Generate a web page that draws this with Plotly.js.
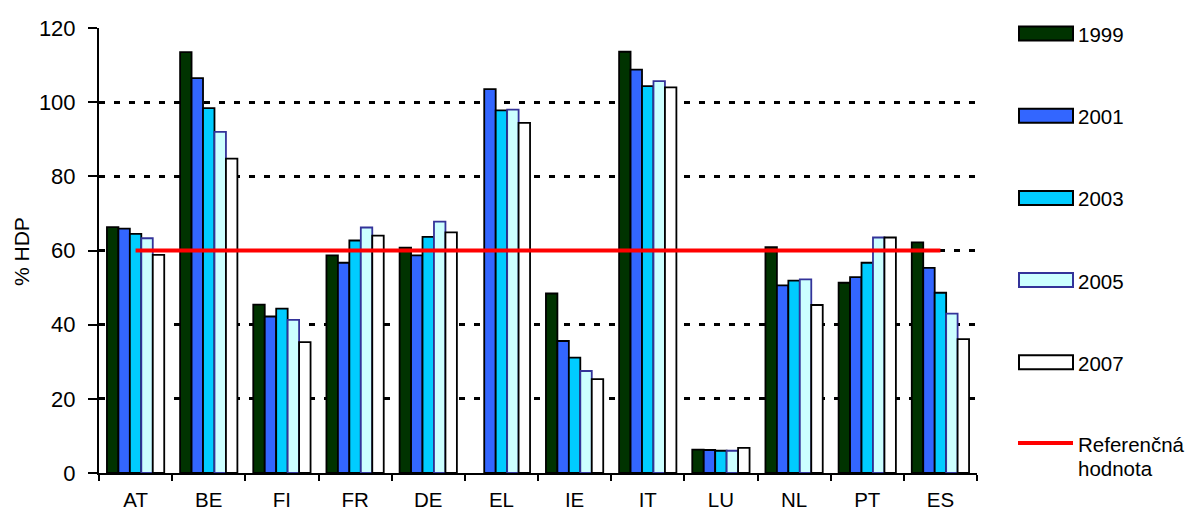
<!DOCTYPE html>
<html>
<head>
<meta charset="utf-8">
<script src="https://cdn.plot.ly/plotly-3.0.1.min.js"></script>
<style>html,body{margin:0;padding:0;background:#fff;}#chart{width:1190px;height:510px;}</style>
</head>
<body>
<div id="chart"></div>
<script>
const categories = ['AT','BE','FI','FR','DE','EL','IE','IT','LU','NL','PT','ES'];
const seriesNames = ['1999','2001','2003','2005','2007'];
const v1999 = [66.3,113.5,45.4,58.7,60.8,null,48.4,113.6,6.3,60.9,51.3,62.2];
const v2001 = [65.9,106.5,42.2,56.7,58.7,103.5,35.6,108.8,6.2,50.6,52.8,55.3];
const v2003 = [64.5,98.4,44.3,62.7,63.7,97.8,31.1,104.3,6.0,51.9,56.7,48.6];
const v2005 = [63.3,92.0,41.3,66.2,67.8,98.0,27.5,105.7,6.0,52.2,63.5,43.0];
const v2007 = [58.8,84.8,35.3,64.0,64.9,94.4,25.3,104.0,6.8,45.3,63.5,36.1];
const referenceValue = 60;
const referenceName = 'Referenčná hodnota';
const yTickValues = [0,20,40,60,80,100,120];

const FONT = 'Liberation Sans, Arial, sans-serif';
const fills = ['#003300','#3366FF','#00CCFF','#CCFFFF','#FFFFFF'];
const outlines = ['#000000','#000000','#000000','#333399','#000000'];
const allValues = [v1999,v2001,v2003,v2005,v2007];

// plot area in pixels
const L = 99, R = 977, T = 28, B = 473;
const px = x => (x - L) / (R - L);
const py = y => (B - y) / (B - T);

const traces = allValues.map((vals, i) => ({
  type: 'bar',
  name: seriesNames[i],
  x: categories,
  y: vals,
  marker: {color: fills[i], line: {color: outlines[i], width: 1.8}},
  showlegend: false,
  hoverinfo: 'x+y+name'
}));
traces.push({
  type: 'scatter',
  mode: 'lines',
  name: referenceName,
  x: categories,
  y: categories.map(() => referenceValue),
  line: {color: '#FF0000', width: 4},
  showlegend: false
});

const shapes = [];
const annotations = [];
const legendY0 = 33.5, legendStep = 82.2;
seriesNames.forEach((n, i) => {
  const cy = legendY0 + i * legendStep;
  shapes.push({
    type: 'rect', xref: 'paper', yref: 'paper',
    x0: px(1019), x1: px(1073), y0: py(cy + 7), y1: py(cy - 7),
    fillcolor: fills[i], line: {color: outlines[i], width: 2}
  });
  annotations.push({
    xref: 'paper', yref: 'paper', x: px(1076), y: py(cy + 1),
    xanchor: 'left', yanchor: 'middle', showarrow: false,
    text: n, font: {family: FONT, size: 20.5, color: '#000'}
  });
});
const refY = 443;
shapes.push({
  type: 'line', xref: 'paper', yref: 'paper',
  x0: px(1018), x1: px(1073), y0: py(refY), y1: py(refY),
  line: {color: '#FF0000', width: 4}
});
const refParts = referenceName.split(' ');
annotations.push({
  xref: 'paper', yref: 'paper', x: px(1076), y: py(refY + 1),
  xanchor: 'left', yanchor: 'middle', showarrow: false,
  text: refParts[0], font: {family: FONT, size: 20.5, color: '#000'}
});
annotations.push({
  xref: 'paper', yref: 'paper', x: px(1076), y: py(refY + 25),
  xanchor: 'left', yanchor: 'middle', showarrow: false,
  text: refParts[1], font: {family: FONT, size: 20.5, color: '#000'}
});
// y axis title
annotations.push({
  xref: 'paper', yref: 'paper', x: px(21), y: py(252),
  xanchor: 'center', yanchor: 'middle', showarrow: false, textangle: -90,
  text: '% HDP', font: {family: FONT, size: 21, color: '#000'}
});

const layout = {
  width: 1190, height: 510,
  margin: {l: L, r: 1190 - R, t: T, b: 510 - B, pad: 0},
  paper_bgcolor: '#fff', plot_bgcolor: '#fff',
  barmode: 'group', bargap: 0.217, bargroupgap: 0,
  font: {family: FONT, color: '#000'},
  xaxis: {
    type: 'category',
    showline: true, linecolor: '#000', linewidth: 2,
    ticks: 'outside', tickson: 'boundaries', ticklen: 6, tickwidth: 2, tickcolor: '#000',
    tickfont: {family: FONT, size: 20.5, color: '#000'},
    ticklabelstandoff: 7,
    showgrid: false, zeroline: false, fixedrange: true
  },
  yaxis: {
    range: [0, 120], tickvals: yTickValues,
    showline: true, linecolor: '#000', linewidth: 2,
    ticks: 'outside', ticklen: 9, tickwidth: 2, tickcolor: '#000',
    tickfont: {family: FONT, size: 22, color: '#000'},
    ticklabelstandoff: 8,
    showgrid: true, gridcolor: '#000', gridwidth: 3, griddash: '6px,9px',
    zeroline: false, fixedrange: true
  },
  shapes: shapes,
  annotations: annotations,
  showlegend: false
};

Plotly.newPlot('chart', traces, layout, {displayModeBar: false, staticPlot: true});
</script>
</body>
</html>
